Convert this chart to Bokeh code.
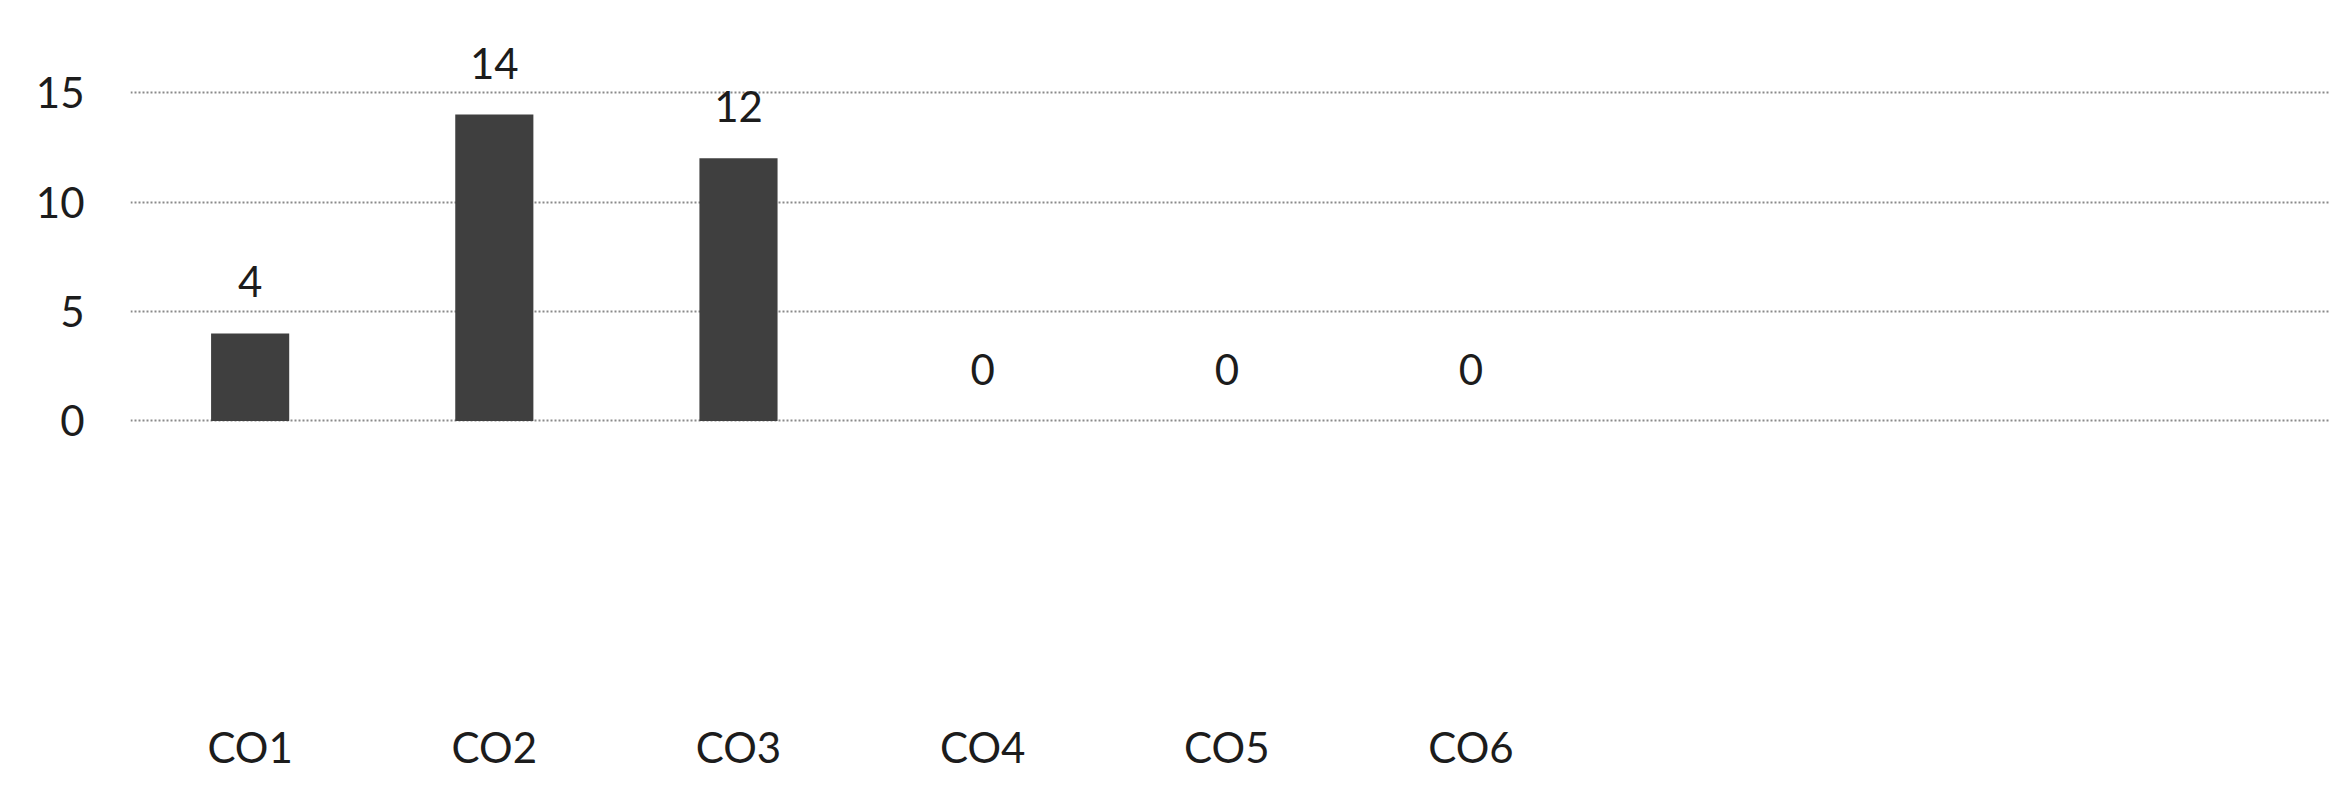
from bokeh.plotting import figure
from bokeh.models import ColumnDataSource, Range1d, FixedTicker, LabelSet
from bokeh.core.properties import value
from bokeh.embed import file_html
from bokeh.resources import INLINE

categories = ["CO1", "CO2", "CO3", "CO4", "CO5", "CO6"]
values = [4, 14, 12, 0, 0, 0]
y_ticks = [0, 5, 10, 15]

idx = list(range(len(categories)))
source = ColumnDataSource(dict(x=idx, top=values, label=[str(v) for v in values]))

FONT = "Lato"
TEXT_COLOR = "#1c1c1c"

p = figure(width=2330, height=785, output_backend="svg", toolbar_location=None,
           x_range=Range1d(-0.49, 8.52), y_range=Range1d(-0.3, 18.98),
           min_border_left=130, min_border_right=0, min_border_top=5,
           min_border_bottom=358)
p.outline_line_color = None
p.background_fill_color = "white"
p.border_fill_color = "white"

p.vbar(x="x", top="top", bottom=0, width=0.32, source=source,
       fill_color="#3f3f3f", line_color=None)

labels = LabelSet(x="x", y="top", text="label", source=source,
                  text_align="center", text_baseline="bottom", y_offset=36,
                  text_font=value(FONT), text_font_size="42px", text_color=TEXT_COLOR)
p.add_layout(labels)

p.xgrid.visible = False
p.ygrid.ticker = FixedTicker(ticks=y_ticks)
p.ygrid.grid_line_color = "#8a8a8a"
p.ygrid.grid_line_dash = "2 2"
p.ygrid.grid_line_width = 2

p.yaxis.ticker = FixedTicker(ticks=y_ticks)
p.yaxis.axis_line_color = None
p.yaxis.major_tick_line_color = None
p.yaxis.minor_tick_line_color = None
p.yaxis.major_label_standoff = 40
p.yaxis.major_label_text_font = FONT
p.yaxis.major_label_text_font_size = "42px"
p.yaxis.major_label_text_color = TEXT_COLOR

p.xaxis.ticker = FixedTicker(ticks=idx)
p.xaxis.major_label_overrides = {i: c for i, c in zip(idx, categories)}
p.xaxis.axis_line_color = None
p.xaxis.major_tick_line_color = None
p.xaxis.minor_tick_line_color = None
p.xaxis.major_label_standoff = 288
p.xaxis.major_label_text_font = FONT
p.xaxis.major_label_text_font_size = "42px"
p.xaxis.major_label_text_color = TEXT_COLOR

open("out.html", "w").write(file_html(p, INLINE))
